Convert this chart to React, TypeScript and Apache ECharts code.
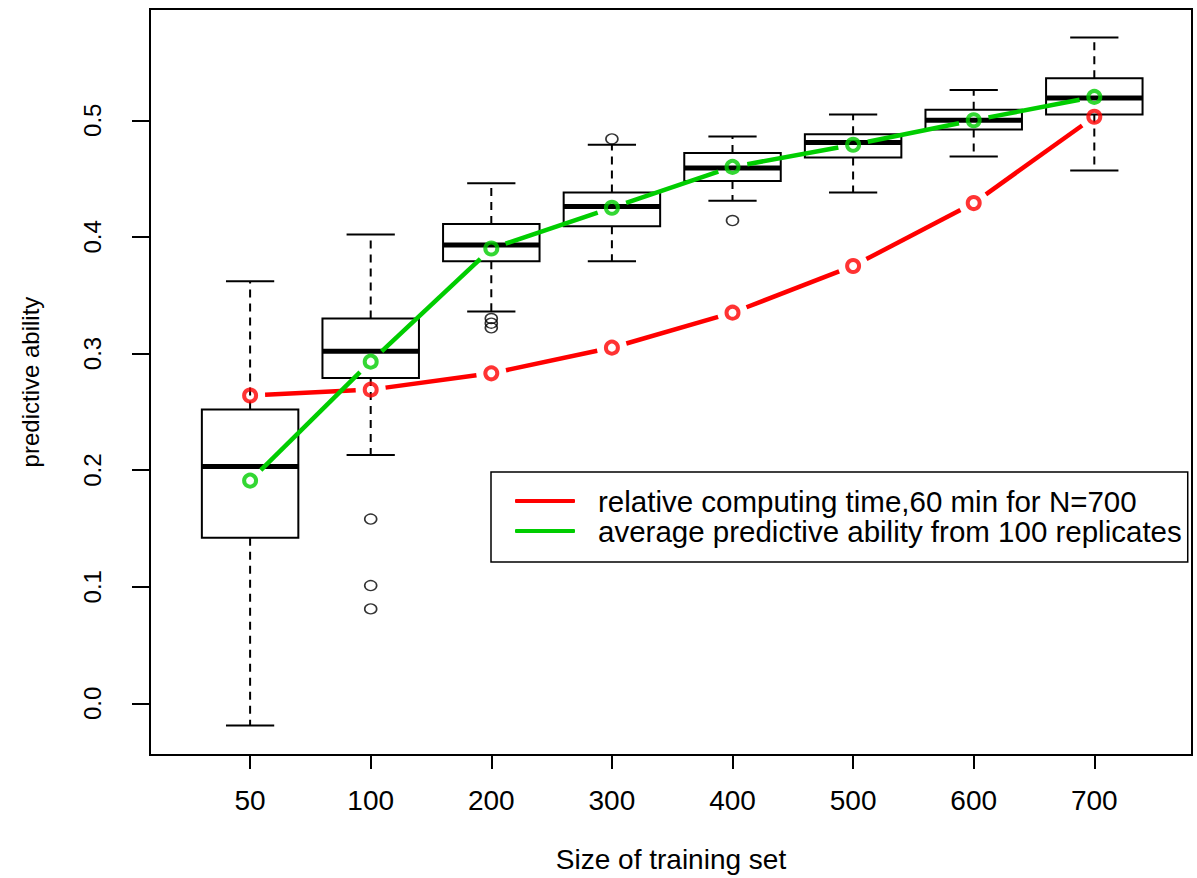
import React, { useEffect, useRef } from 'react';
import * as echarts from 'echarts';

const sizeLabels = ['50', '100', '200', '300', '400', '500', '600', '700'];
const positions = [1, 2, 3, 4, 5, 6, 7, 8];
const whiskerLow = [-0.019, 0.213, 0.336, 0.379, 0.431, 0.438, 0.469, 0.457];
const quartile1 = [0.142, 0.279, 0.379, 0.409, 0.448, 0.468, 0.492, 0.505];
const medians = [0.203, 0.302, 0.393, 0.426, 0.459, 0.481, 0.5, 0.519];
const quartile3 = [0.252, 0.33, 0.411, 0.438, 0.472, 0.488, 0.509, 0.536];
const whiskerHigh = [0.362, 0.402, 0.446, 0.479, 0.486, 0.505, 0.526, 0.571];
const outlierPos = [2, 2, 2, 3, 3, 3, 4, 5];
const outlierValue = [0.158, 0.101, 0.081, 0.33, 0.326, 0.322, 0.484, 0.414];
const avgAbility = [0.191, 0.293, 0.39, 0.425, 0.46, 0.479, 0.5, 0.52];
const relTime = [0.264, 0.269, 0.283, 0.305, 0.335, 0.375, 0.429, 0.503];
const yTicks = [0, 0.1, 0.2, 0.3, 0.4, 0.5];

const FONT = '"Liberation Sans", Arial, Helvetica, sans-serif';
const RED = '#FF0000';
const GREEN = '#00CD00';
const NAME_RED = 'relative computing time,60 min for N=700';
const NAME_GREEN = 'average predictive ability from 100 replicates';

function segData(vals: number[]) {
  return positions.slice(0, -1).map((p, i) => [p, vals[i], positions[i + 1], vals[i + 1]]);
}

const segRender = (color: string) => (_params: any, api: any) => {
  const a = api.coord([api.value(0), api.value(1)]);
  const b = api.coord([api.value(2), api.value(3)]);
  const dx = b[0] - a[0];
  const dy = b[1] - a[1];
  const len = Math.hypot(dx, dy);
  const g = 15;
  if (len <= 2 * g) return null;
  const ux = dx / len;
  const uy = dy / len;
  return {
    type: 'line',
    shape: { x1: a[0] + ux * g, y1: a[1] + uy * g, x2: b[0] - ux * g, y2: b[1] - uy * g },
    style: { stroke: color, lineWidth: 4.5, lineCap: 'butt' },
  };
};

const boxRender = (_params: any, api: any) => {
  const x = api.value(0);
  const lo = api.value(1);
  const q1 = api.value(2);
  const md = api.value(3);
  const q3 = api.value(4);
  const hi = api.value(5);
  const c = (xx: number, yy: number) => api.coord([xx, yy]);
  const hw = 0.4;
  const cw = 0.2;
  const pLo = c(x, lo), pQ1 = c(x, q1), pQ3 = c(x, q3), pHi = c(x, hi);
  const tl = c(x - hw, q3), brc = c(x + hw, q1);
  const ml = c(x - hw, md), mr = c(x + hw, md);
  const chl = c(x - cw, hi), chr = c(x + cw, hi);
  const cll = c(x - cw, lo), clr = c(x + cw, lo);
  const thin = { stroke: '#000', lineWidth: 2 };
  const dash = { stroke: '#000', lineWidth: 2, lineDash: [8, 6] };
  return {
    type: 'group',
    children: [
      { type: 'line', shape: { x1: pQ3[0], y1: pQ3[1], x2: pHi[0], y2: pHi[1] }, style: dash },
      { type: 'line', shape: { x1: pQ1[0], y1: pQ1[1], x2: pLo[0], y2: pLo[1] }, style: dash },
      { type: 'line', shape: { x1: chl[0], y1: chl[1], x2: chr[0], y2: chr[1] }, style: thin },
      { type: 'line', shape: { x1: cll[0], y1: cll[1], x2: clr[0], y2: clr[1] }, style: thin },
      {
        type: 'rect',
        shape: { x: tl[0], y: tl[1], width: brc[0] - tl[0], height: brc[1] - tl[1] },
        style: { fill: 'rgba(0,0,0,0)', stroke: '#000', lineWidth: 2 },
      },
      { type: 'line', shape: { x1: ml[0], y1: ml[1], x2: mr[0], y2: mr[1] }, style: { stroke: '#000', lineWidth: 5 } },
    ],
  };
};

export default function App() {
  const ref = useRef<HTMLDivElement>(null);
  useEffect(() => {
    document.body.style.margin = '0';
    if (!ref.current) return;
    const chart = echarts.init(ref.current, null, { renderer: 'svg' });
    const boxData = positions.map((p, i) => [p, whiskerLow[i], quartile1[i], medians[i], quartile3[i], whiskerHigh[i]]);
    const outData = outlierPos.map((p, i) => [p, outlierValue[i]]);
    chart.setOption({
      animation: false,
      backgroundColor: '#fff',
      textStyle: { fontFamily: FONT },
      grid: {
        left: 150,
        right: 5,
        top: 9,
        bottom: 118,
        show: true,
        borderColor: '#000',
        borderWidth: 2,
        backgroundColor: 'rgba(0,0,0,0)',
      },
      legend: {
        orient: 'vertical',
        left: 491,
        top: 472,
        itemWidth: 60,
        itemHeight: 4,
        itemGap: 0,
        padding: [14, 6, 16, 24],
        borderColor: '#000',
        borderWidth: 1.5,
        backgroundColor: '#fff',
        selectedMode: false,
        textStyle: { fontSize: 29.5, lineHeight: 29, color: '#000', fontFamily: FONT, padding: [0, 0, 0, 18] },
        data: [
          { name: NAME_RED, icon: 'roundRect', itemStyle: { color: RED, borderWidth: 0 } },
          { name: NAME_GREEN, icon: 'roundRect', itemStyle: { color: GREEN, borderWidth: 0 } },
        ],
      },
      xAxis: {
        type: 'value',
        min: 0.17,
        max: 8.81,
        axisLine: { show: false, onZero: false },
        splitLine: { show: false },
        axisTick: { show: true, customValues: positions, length: 14, lineStyle: { color: '#000', width: 2 } },
        axisLabel: {
          customValues: positions,
          formatter: (v: number) => sizeLabels[Math.round(v) - 1] ?? '',
          fontSize: 28,
          color: '#000',
          margin: 31,
          fontFamily: FONT,
        },
        name: 'Size of training set',
        nameLocation: 'middle',
        nameGap: 90,
        nameTextStyle: { fontSize: 28, color: '#000', fontFamily: FONT },
      },
      yAxis: {
        type: 'value',
        min: -0.0443,
        max: 0.5954,
        axisLine: { show: false, onZero: false },
        splitLine: { show: false },
        axisTick: { show: true, customValues: yTicks, length: 18, lineStyle: { color: '#000', width: 2 } },
        axisLabel: {
          customValues: yTicks,
          formatter: (v: number) => v.toFixed(1),
          rotate: 90,
          fontSize: 24,
          color: '#000',
          margin: 46,
          fontFamily: FONT,
        },
        name: 'predictive ability',
        nameLocation: 'middle',
        nameGap: 108,
        nameTextStyle: { fontSize: 24, color: '#000', fontFamily: FONT },
      },
      series: [
        {
          type: 'custom',
          name: 'boxes',
          renderItem: boxRender,
          encode: { x: 0, y: [1, 2, 3, 4, 5] },
          data: boxData,
          silent: true,
          z: 1,
        },
        {
          type: 'scatter',
          name: 'outliers',
          data: outData,
          symbol: 'circle',
          symbolSize: [12, 10],
          itemStyle: { color: 'rgba(0,0,0,0)', borderColor: '#000', borderWidth: 1.5 },
          silent: true,
          z: 2,
        },
        {
          type: 'custom',
          name: NAME_RED,
          renderItem: segRender(RED),
          encode: { x: [0, 2], y: [1, 3] },
          data: segData(relTime),
          silent: true,
          z: 3,
        },
        {
          type: 'scatter',
          name: NAME_RED,
          data: positions.map((p, i) => [p, relTime[i]]),
          symbol: 'circle',
          symbolSize: 12,
          itemStyle: { color: 'rgba(0,0,0,0)', borderColor: RED, borderWidth: 4 },
          silent: true,
          z: 4,
        },
        {
          type: 'custom',
          name: NAME_GREEN,
          renderItem: segRender(GREEN),
          encode: { x: [0, 2], y: [1, 3] },
          data: segData(avgAbility),
          silent: true,
          z: 3,
        },
        {
          type: 'scatter',
          name: NAME_GREEN,
          data: positions.map((p, i) => [p, avgAbility[i]]),
          symbol: 'circle',
          symbolSize: 12,
          itemStyle: { color: 'rgba(0,0,0,0)', borderColor: GREEN, borderWidth: 4 },
          silent: true,
          z: 4,
        },
      ],
    });
    return () => chart.dispose();
  }, []);
  return <div ref={ref} style={{ width: 1197, height: 878 }} />;
}
